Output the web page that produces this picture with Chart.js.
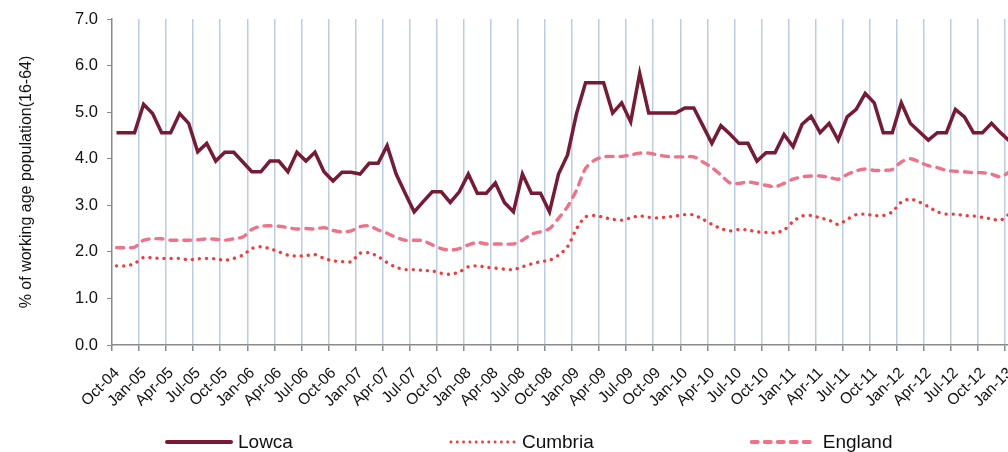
<!DOCTYPE html>
<html>
<head>
<meta charset="utf-8">
<script src="https://cdn.jsdelivr.net/npm/chart.js@4.4.1/dist/chart.umd.min.js"></script>
<style>
html, body { margin: 0; padding: 0; background: #fff; overflow: hidden; }
#wrap { width: 1008px; height: 452px; position: relative; }
</style>
</head>
<body>
<div id="wrap"><canvas id="canvas-1"></canvas></div>
<script>
// month labels, Oct-04 .. Jan-13
var monthNames = ['Jan', 'Feb', 'Mar', 'Apr', 'May', 'Jun', 'Jul', 'Aug', 'Sep', 'Oct', 'Nov', 'Dec'];
var months = [];
for (var k = 0; k < 100; k++) {
    var m = (9 + k) % 12;
    var yr = 4 + Math.floor((9 + k) / 12);
    months.push(monthNames[m] + '-' + (yr < 10 ? '0' + yr : yr));
}

var yTicks = [0, 1, 2, 3, 4, 5, 6, 7];

var lowca = [
    4.56, 4.56, 4.56, 5.17, 4.97, 4.56, 4.56, 4.97, 4.76, 4.15, 4.33, 3.95, 4.14, 4.14, 3.93, 3.72, 3.72, 3.95, 3.95, 3.72, 4.14, 3.95, 4.14, 3.72, 3.52,
    3.71, 3.71, 3.67, 3.90, 3.90, 4.28, 3.67, 3.26, 2.86, 3.08, 3.29, 3.29, 3.06, 3.29, 3.67, 3.26, 3.26, 3.48, 3.06, 2.86, 3.67, 3.26, 3.26, 2.86,
    3.67, 4.08, 4.97, 5.63, 5.63, 5.63, 4.98, 5.20, 4.79, 5.83, 4.98, 4.98, 4.98, 4.98, 5.09, 5.09, 4.71, 4.33, 4.71, 4.53, 4.33, 4.33, 3.95, 4.13, 4.13,
    4.52, 4.26, 4.74, 4.91, 4.56, 4.76, 4.40, 4.90, 5.06, 5.40, 5.20, 4.56, 4.56, 5.20, 4.76, 4.58, 4.40, 4.56, 4.56, 5.06, 4.90, 4.56, 4.56, 4.76, 4.56, 4.38
];
var cumbria = [
    1.70, 1.70, 1.75, 1.88, 1.87, 1.86, 1.86, 1.86, 1.83, 1.85, 1.86, 1.85, 1.82, 1.86, 1.93, 2.07, 2.11, 2.07, 2.00, 1.93, 1.91, 1.92, 1.94, 1.86, 1.81,
    1.79, 1.79, 1.97, 1.98, 1.90, 1.77, 1.67, 1.62, 1.62, 1.60, 1.59, 1.54, 1.52, 1.57, 1.68, 1.70, 1.67, 1.65, 1.63, 1.62, 1.68, 1.74, 1.79, 1.82,
    1.93, 2.11, 2.50, 2.75, 2.78, 2.74, 2.70, 2.68, 2.73, 2.77, 2.74, 2.73, 2.75, 2.77, 2.80, 2.79, 2.70, 2.59, 2.50, 2.45, 2.48, 2.47, 2.43, 2.42, 2.41,
    2.47, 2.65, 2.77, 2.78, 2.73, 2.68, 2.59, 2.70, 2.80, 2.81, 2.78, 2.78, 2.86, 3.07, 3.13, 3.07, 2.97, 2.86, 2.81, 2.81, 2.78, 2.77, 2.74, 2.71, 2.68, 2.82
];
var england = [
    2.09, 2.09, 2.10, 2.25, 2.28, 2.28, 2.25, 2.25, 2.25, 2.26, 2.28, 2.27, 2.25, 2.28, 2.32, 2.48, 2.55, 2.56, 2.55, 2.52, 2.49, 2.50, 2.49, 2.52, 2.46,
    2.43, 2.45, 2.54, 2.56, 2.47, 2.40, 2.31, 2.25, 2.25, 2.24, 2.15, 2.07, 2.04, 2.07, 2.15, 2.20, 2.17, 2.17, 2.17, 2.17, 2.25, 2.38, 2.43, 2.50,
    2.72, 2.97, 3.33, 3.79, 3.97, 4.04, 4.05, 4.05, 4.08, 4.12, 4.12, 4.08, 4.05, 4.04, 4.04, 4.04, 3.93, 3.81, 3.65, 3.48, 3.47, 3.50, 3.47, 3.43, 3.40,
    3.47, 3.56, 3.61, 3.63, 3.63, 3.60, 3.56, 3.66, 3.74, 3.78, 3.75, 3.75, 3.77, 3.93, 4.00, 3.93, 3.85, 3.81, 3.75, 3.73, 3.72, 3.70, 3.70, 3.67, 3.61, 3.72
];

var FONT = '"Liberation Sans", Arial, sans-serif';
var AXIS = '#8a8a8a';
var GRID = '#b9cde5';

function toPoints(arr) {
    return arr.map(function (v, i) { return { x: i, y: v }; });
}

// legend drawn under the axis, spread like the original
var bottomLegend = {
    id: 'bottomLegend',
    afterDraw: function (chart) {
        var ctx = chart.ctx;
        var x = 167, y = 442;
        ctx.save();
        ctx.font = '19px ' + FONT;
        ctx.textBaseline = 'middle';
        chart.data.datasets.forEach(function (ds) {
            ctx.strokeStyle = ds.borderColor;
            ctx.lineWidth = ds.legendWidth;
            ctx.lineCap = 'round';
            ctx.setLineDash(ds.legendDash || []);
            ctx.beginPath();
            ctx.moveTo(x, y);
            ctx.lineTo(x + 64, y);
            ctx.stroke();
            ctx.setLineDash([]);
            ctx.fillStyle = '#111';
            ctx.fillText(ds.label, x + 71, y + 1);
            x += 71 + ctx.measureText(ds.label).width + 158;
        });
        ctx.restore();
    }
};

var ctx = document.getElementById('canvas-1');
var chart = new Chart(ctx, {
    type: 'line',
    data: {
        datasets: [
            {
                label: 'Lowca',
                data: toPoints(lowca),
                borderColor: '#771a33',
                borderWidth: 3.5,
                legendWidth: 4,
                pointRadius: 0,
                tension: 0
            },
            {
                label: 'Cumbria',
                data: toPoints(cumbria),
                borderColor: '#ff3535',
                borderWidth: 3.3,
                legendWidth: 2.8,
                borderDash: [0.1, 7],
                legendDash: [0.1, 6.2],
                borderCapStyle: 'round',
                pointRadius: 0,
                tension: 0.3
            },
            {
                label: 'England',
                data: toPoints(england),
                borderColor: '#ef7288',
                borderWidth: 3.4,
                legendWidth: 4,
                borderDash: [7, 7],
                legendDash: [6, 7],
                borderCapStyle: 'round',
                pointRadius: 0,
                tension: 0.3
            }
        ]
    },
    options: {
        responsive: true,
        maintainAspectRatio: false,
        animation: false,
        layout: { padding: { top: 19, right: 0, left: 0, bottom: 32 } },
        plugins: {
            legend: { display: false },
            tooltip: { enabled: false }
        },
        scales: {
            x: {
                type: 'linear',
                min: -0.5,
                max: 98.83,
                afterBuildTicks: function (axis) {
                    var t = [];
                    for (var i = 0; i < months.length; i += 3) {
                        if (i - 0.5 <= axis.max) t.push({ value: i - 0.5 });
                    }
                    axis.ticks = t;
                },
                afterFit: function (axis) {
                    axis.height = 75;
                    axis.paddingLeft = 0;
                    axis.paddingRight = 0;
                },
                border: { color: AXIS, width: 1.5 },
                grid: {
                    color: function (c) {
                        return (c.tick && c.tick.value < 0) ? 'rgba(0,0,0,0)' : GRID;
                    },
                    lineWidth: 1.5,
                    tickColor: AXIS,
                    tickLength: 6
                },
                ticks: {
                    autoSkip: false,
                    minRotation: 45,
                    maxRotation: 45,
                    labelOffset: 5,
                    padding: 13,
                    color: '#111',
                    font: { family: FONT, size: 15.5 },
                    callback: function (value) {
                        return months[Math.round(value + 0.5)];
                    }
                }
            },
            y: {
                min: 0,
                max: 7,
                afterBuildTicks: function (axis) {
                    axis.ticks = yTicks.map(function (v) { return { value: v }; });
                },
                afterFit: function (axis) {
                    axis.width = 112;
                },
                border: { color: AXIS, width: 1.5 },
                grid: {
                    drawOnChartArea: false,
                    tickColor: AXIS,
                    tickLength: 5
                },
                ticks: {
                    padding: 9,
                    color: '#111',
                    font: { family: FONT, size: 16.5 },
                    callback: function (v) { return v.toFixed(1); }
                },
                title: {
                    display: true,
                    text: '% of working age population(16-64)',
                    color: '#111',
                    font: { family: FONT, size: 16 },
                    padding: { top: 17, bottom: 0 }
                }
            }
        }
    },
    plugins: [bottomLegend]
});
</script>
</body>
</html>
